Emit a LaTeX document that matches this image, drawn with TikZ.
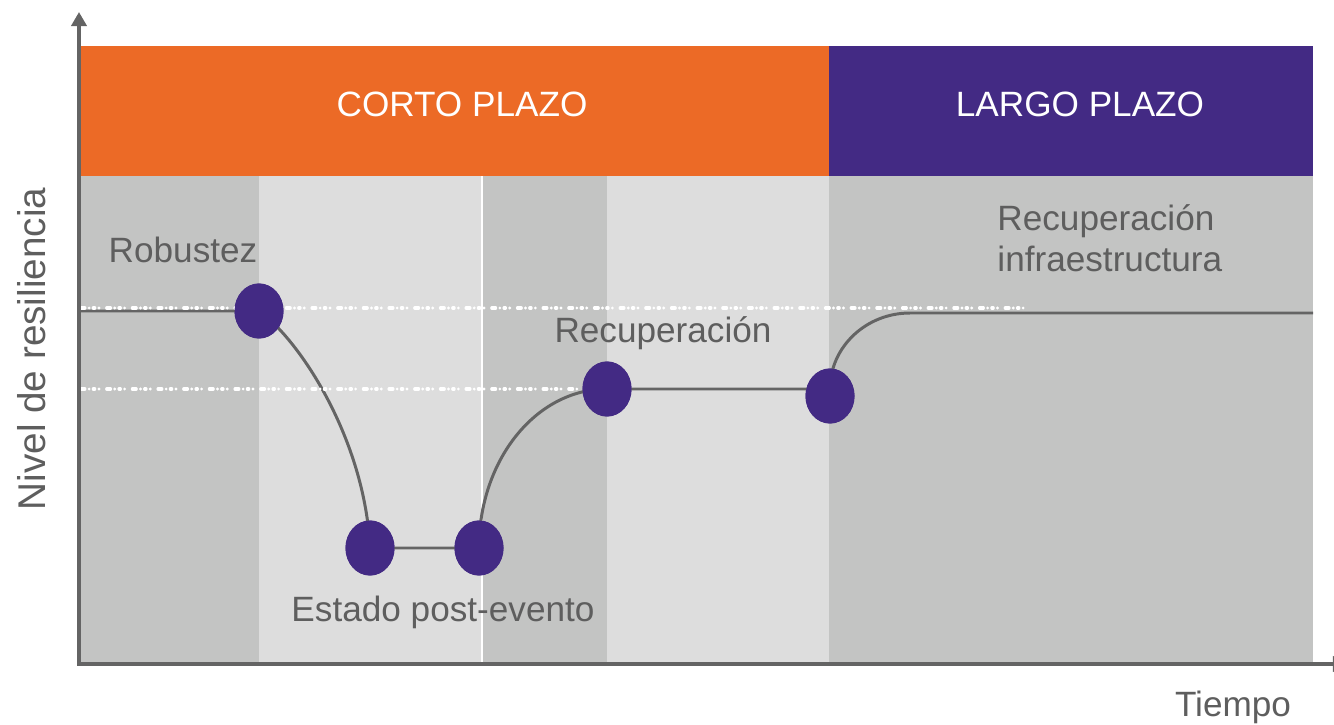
\documentclass[tikz,border=0pt]{standalone}
\usepackage{fontspec}
\setmainfont{Liberation Sans}
\usepackage{xcolor}
\usetikzlibrary{shapes,arrows, positioning, arrows.meta}
\definecolor{naranja}{HTML}{EC6A26}
\definecolor{morado}{HTML}{432A84}
\definecolor{grisoscuro}{HTML}{C3C4C3}
\definecolor{grisclaro}{HTML}{DDDDDD}
\definecolor{gristexto}{HTML}{5E5E5E}
\definecolor{grislinea}{HTML}{646464}

\begin{document}
\begin{tikzpicture}[x=0.01cm, y=0.01cm,
        hito/.style={ellipse, fill=morado, minimum width=0.49cm, minimum height=0.55cm, inner sep=0pt},
        etiqueta/.style={text=gristexto, font=\fontsize{10}{11.7}\selectfont},
        cabecera/.style={text=white, font=\fontsize{10}{12}\selectfont},
        curva/.style={grislinea, line width=0.85pt},
        punteada/.style={white, line width=0.9pt, line cap=round, dash pattern=on 1.1pt off 1.2pt on 0pt off 1.2pt on 0.4pt off 1.2pt on 0pt off 2.2pt},
        eje/.style={grislinea, line width=1.1pt, -{Triangle[length=4pt, width=4.3pt]}}]
        \useasboundingbox (0,0) rectangle (1334,724);

        % Bands
        \fill[naranja] (81,548) rectangle (829,678);
        \fill[morado] (829,548) rectangle (1313,678);
        \fill[grisoscuro] (81,62) rectangle (259,548);
        \fill[grisclaro] (259,62) rectangle (482,548);
        \fill[grisoscuro] (482,62) rectangle (607,548);
        \fill[grisclaro] (607,62) rectangle (829,548);
        \fill[grisoscuro] (829,62) rectangle (1313,548);
        \draw[white, line width=0.4pt] (482,62) -- (482,548);

        % Headers
        \node[cabecera] (corto) at (462,620) {CORTO PLAZO};
        \node[cabecera] (largoplazo) at (1080,620) {LARGO PLAZO};

        % Nodes
        \node[hito] (robustez) at (259,413) {};
        \node[hito] (caidaA) at (370,176) {};
        \node[hito] (caidaB) at (479,176) {};
        \node[hito] (recup) at (607,335) {};
        \node[hito] (largo) at (830,328) {};
        \coordinate (inicio) at (81,413);
        \coordinate (cima) at (910,411);
        \coordinate (fin) at (1313,411);

        % Curve
        \draw[curva] (inicio) -- (robustez.center)
            .. controls (300,384) and (365,284) .. (caidaA.center) -- (caidaB.center)
            .. controls (479,264) and (536,335) .. (recup.center) -- (recup.center -| largo.center)
            .. controls (830,377) and (866,411) .. (cima) -- (fin);

        % Dotted levels
        \draw[punteada] (81,416) -- (1028,416);
        \draw[punteada] (81,335) -- (578,335);

        % Circles on top
        \foreach \n in {robustez, caidaA, caidaB, recup, largo}
            \fill[morado] (\n.center) ellipse [x radius=24.5, y radius=27.5];

        % Labels
        \node[etiqueta] (lrobustez) at (183,474) {Robustez};
        \node[etiqueta] (lrecup) at (663,391) {Recuperación};
        \node[etiqueta, anchor=west, align=left] (linfra) at (985,486) {Recuperación\\infraestructura};
        \node[etiqueta] (lestado) at (443,112) {Estado post-evento};
        \node[etiqueta] (tiempo) at (1233,17) {Tiempo};
        \node[etiqueta, font=\fontsize{11}{13}\selectfont, rotate=90] (nivel) at (32,375) {Nivel de resiliencia};

        % Axes
        \draw[eje] (79,60) -- (79,712);
        \draw[eje] (77,60) -- (1347,60);
    \end{tikzpicture}
\end{document}
